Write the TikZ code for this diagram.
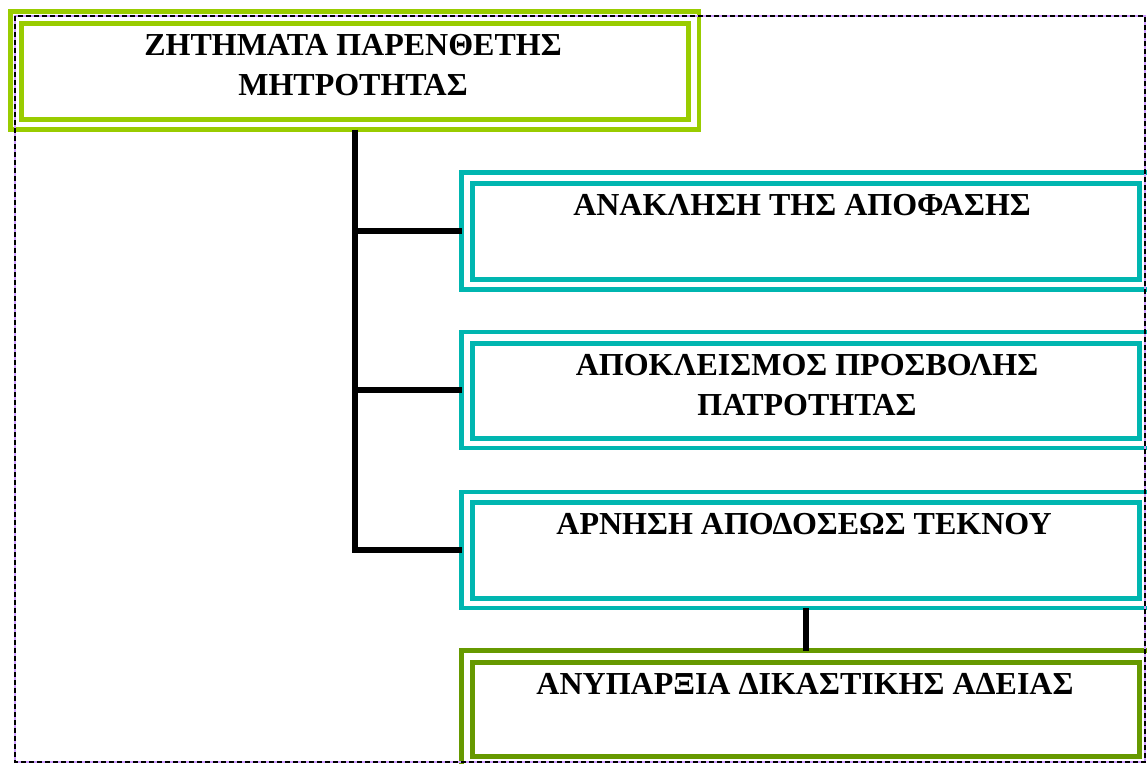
\documentclass[tikz,border=0pt]{standalone}
\usepackage{fontspec}
\setmainfont{Liberation Serif}
\definecolor{limeG}{RGB}{153,204,0}
\definecolor{tealC}{RGB}{0,182,176}
\definecolor{oliveG}{RGB}{102,153,0}
\definecolor{lilac}{RGB}{204,153,255}
\begin{document}
\begin{tikzpicture}[x=1pt,y=-1pt,
  outerbox/.style={draw=#1, line width=4.5pt, inner sep=0pt, outer sep=0pt, rectangle},
  innerbox/.style={draw=#1, line width=5pt, inner sep=0pt, outer sep=0pt, rectangle},
  label/.style={anchor=base, inner sep=0pt, font=\bfseries\fontsize{32}{40}\selectfont},
  conn/.style={draw=black, line width=5.5pt, line join=miter},
]
\useasboundingbox (0,0) rectangle (1147,763);
\clip (0,0) rectangle (1147,763);

% top box
\node[outerbox=limeG, minimum width=688.5pt, minimum height=118pt] (top) at (354.75,70.5) {};
\node[innerbox=limeG, minimum width=667pt, minimum height=95.5pt] (topin) at (355,71.25) {};
\node[label] (toptxtA) at (353,55) {ΖΗΤΗΜΑΤΑ ΠΑΡΕΝΘΕΤΗΣ};
\node[label] (toptxtB) at (353,95) {ΜΗΤΡΟΤΗΤΑΣ};

% box 1
\node[outerbox=tealC, minimum width=689pt, minimum height=117pt] (b1) at (806,231) {};
\node[innerbox=tealC, minimum width=667pt, minimum height=96pt] (b1in) at (806,231) {};
\node[label] (b1txt) at (802,215) {ΑΝΑΚΛΗΣΗ ΤΗΣ ΑΠΟΦΑΣΗΣ};

% box 2
\node[outerbox=tealC, minimum width=689pt, minimum height=116pt] (b2) at (806,390) {};
\node[innerbox=tealC, minimum width=667pt, minimum height=95pt] (b2in) at (806,390.5) {};
\node[label] (b2txtA) at (807,375) {ΑΠΟΚΛΕΙΣΜΟΣ ΠΡΟΣΒΟΛΗΣ};
\node[label] (b2txtB) at (807,415) {ΠΑΤΡΟΤΗΤΑΣ};

% box 3
\node[outerbox=tealC, minimum width=689pt, minimum height=116pt] (b3) at (806,550) {};
\node[innerbox=tealC, minimum width=667pt, minimum height=96pt] (b3in) at (806,550) {};
\node[label] (b3txt) at (804,534) {ΑΡΝΗΣΗ ΑΠΟΔΟΣΕΩΣ ΤΕΚΝΟΥ};

% box 4
\node[outerbox=oliveG, minimum width=689pt, minimum height=116pt] (b4) at (806,708.5) {};
\node[innerbox=oliveG, minimum width=667pt, minimum height=94pt] (b4in) at (806,709) {};
\node[label] (b4txt) at (805,694) {ΑΝΥΠΑΡΞΙΑ ΔΙΚΑΣΤΙΚΗΣ ΑΔΕΙΑΣ};

% connectors
\coordinate (trunkbot) at (355,550);
\draw[conn] (top.south -| trunkbot) -- (trunkbot) -- (b3.west);
\draw[conn] (b1.west -| trunkbot) -- (b1.west);
\draw[conn] (b2.west -| trunkbot) -- (b2.west);
\draw[conn] (b3.south) -- (b4.north);

% dashed frame
\node[draw=lilac, line width=1.5pt, inner sep=0pt, outer sep=0pt, minimum width=1130pt, minimum height=746pt] (frame) at (580,389) {};
\draw[black, line width=1.5pt, dash pattern=on 5pt off 3pt] (frame.north west) rectangle (frame.south east);
\end{tikzpicture}
\end{document}
